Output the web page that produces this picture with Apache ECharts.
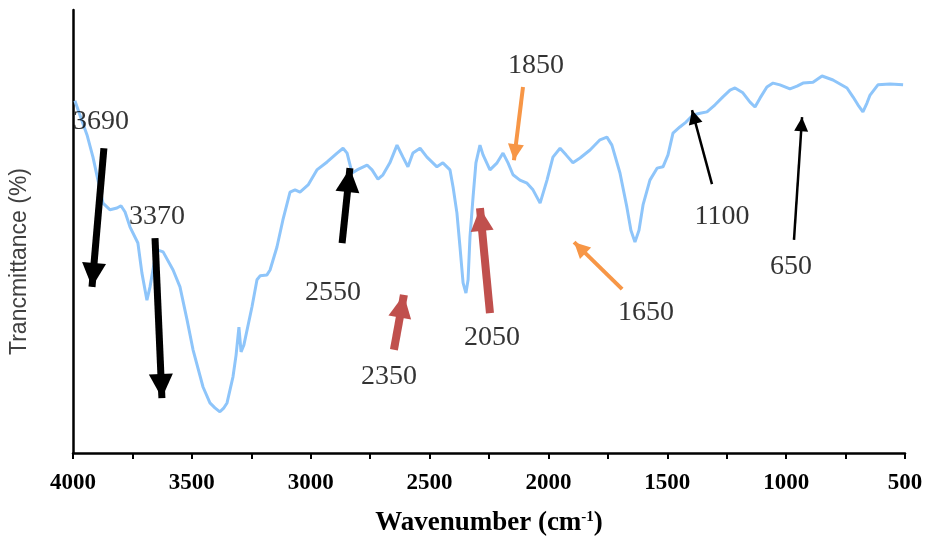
<!DOCTYPE html>
<html>
<head>
<meta charset="utf-8">
<title>FTIR</title>
<script src="https://cdn.jsdelivr.net/npm/echarts@6/dist/echarts.min.js"></script>
<style>
html, body { margin: 0; padding: 0; background: #fff; }
#main { width: 925px; height: 536px; }
</style>
</head>
<body>
<div id="main"></div>
<script>
// spectrum
var wavenumber = [3992, 3971, 3941, 3916, 3895, 3874, 3844, 3815, 3798, 3781, 3760, 3727, 3710, 3689, 3676, 3655, 3642, 3621, 3579, 3550,
  3520, 3495, 3453, 3424, 3403, 3382, 3365, 3352, 3327, 3314, 3302, 3293, 3281, 3247, 3226, 3213, 3184, 3171, 3142, 3117,
  3087, 3066, 3045, 3011, 2974, 2931, 2889, 2864, 2847, 2826, 2805, 2763, 2742, 2717, 2696, 2667, 2637, 2612, 2591, 2570,
  2540, 2511, 2469, 2444, 2414, 2401, 2385, 2372, 2359, 2347, 2338, 2330, 2317, 2305, 2288, 2275, 2246, 2216, 2191, 2170,
  2149, 2120, 2090, 2065, 2035, 2006, 1981, 1951, 1926, 1897, 1867, 1825, 1783, 1754, 1733, 1699, 1670, 1653, 1636, 1619,
  1602, 1573, 1543, 1518, 1497, 1476, 1447, 1421, 1392, 1362, 1333, 1299, 1266, 1236, 1215, 1182, 1152, 1131, 1110, 1081,
  1055, 1026, 984, 954, 929, 887, 849, 803, 744, 719, 698, 677, 660, 647, 614, 563, 508];
var transmittance = [79.5, 76.3, 71.8, 66.8, 61.6, 56.4, 54.9, 55.3, 55.8, 54.4, 51.0, 47.4, 40.6, 34.5, 37.5, 44.0, 45.8, 45.4, 41.3, 37.5,
  30.0, 23.3, 14.9, 11.3, 10.2, 9.3, 10.2, 11.3, 17.2, 22.1, 28.4, 22.8, 24.4, 33.0, 39.1, 40.0, 40.2, 41.3, 46.5, 52.6,
  58.9, 59.4, 58.9, 60.5, 63.9, 65.7, 67.7, 68.8, 67.7, 63.2, 63.9, 65.0, 63.9, 61.8, 62.8, 65.5, 69.5, 66.8, 64.6, 67.7,
  68.8, 66.8, 64.6, 65.5, 63.9, 60.0, 54.2, 46.5, 38.4, 36.1, 39.1, 48.8, 57.8, 65.5, 69.5, 67.3, 63.9, 65.5, 67.7, 65.5,
  62.8, 61.6, 60.9, 59.4, 56.4, 61.6, 66.8, 68.8, 67.3, 65.5, 66.6, 68.4, 70.7, 71.3, 69.5, 63.2, 55.5, 50.3, 47.6, 50.3,
  56.0, 61.6, 64.3, 64.6, 67.3, 72.2, 73.6, 74.7, 76.3, 76.7, 77.0, 78.6, 80.4, 81.9, 82.4, 81.3, 79.2, 78.1, 80.1, 82.6,
  83.5, 83.1, 82.2, 82.8, 83.5, 83.7, 85.1, 84.2, 82.4, 80.4, 78.6, 77.0, 79.0, 80.8, 83.1, 83.3, 83.1];

// peak annotations
var peakNames  = ['3690', '3370', '2550', '2350', '2050', '1850', '1650', '1100', '650'];
var peakTextX  = [3882, 3647, 2906, 2671, 2237, 2052, 1590, 1270, 980];
var peakTextY  = [74.7, 53.3, 36.1, 17.2, 26.0, 87.4, 31.6, 53.3, 42.0];
var arrowTailX = [3870, 3655, 2868, 2650, 2246, 2107, 1690, 1312, 967];
var arrowTailY = [68.8, 48.5, 47.4, 23.3, 31.6, 82.6, 37.0, 60.7, 48.1];
var arrowTipX  = [3920, 3626, 2835, 2608, 2288, 2145, 1892, 1396, 933];
var arrowTipY  = [37.5, 12.4, 64.3, 35.7, 55.3, 66.1, 47.6, 77.4, 75.8];
var arrowKind  = ['bold', 'bold', 'bold', 'red', 'red', 'orange', 'orange', 'thin', 'thin'];

var arrowStyle = {
  bold:   { color: '#000000', width: 7, head: [24, 24] },
  red:    { color: '#C0504D', width: 8, head: [23, 23] },
  orange: { color: '#F79646', width: 4, head: [16, 16] },
  thin:   { color: '#000000', width: 2.5, head: [14, 14] }
};

var arrows = [];
for (var i = 0; i < peakNames.length; i++) {
  var s = arrowStyle[arrowKind[i]];
  arrows.push([
    { coord: [arrowTailX[i], arrowTailY[i]], symbol: 'none',
      lineStyle: { color: s.color, width: s.width, type: 'solid' } },
    { coord: [arrowTipX[i], arrowTipY[i]], symbol: 'triangle', symbolSize: s.head,
      symbolOffset: [0, s.head[1] / 2] }
  ]);
}

var labelData = [];
for (var j = 0; j < peakNames.length; j++) {
  labelData.push([peakTextX[j], peakTextY[j], peakNames[j]]);
}

var lineData = [];
for (var k = 0; k < wavenumber.length; k++) {
  lineData.push([wavenumber[k], transmittance[k]]);
}

var myChart = echarts.init(document.getElementById('main'));
myChart.setOption({
  animation: false,
  grid: { left: 73, right: 20, top: 10, bottom: 83, containLabel: false, outerBoundsMode: 'none' },
  xAxis: {
    type: 'value',
    inverse: true,
    min: 500,
    max: 4000,
    interval: 250,
    name: 'Wavenumber (cm{sup|-1})',
    nameLocation: 'middle',
    nameGap: 57,
    nameTextStyle: {
      fontFamily: 'Liberation Serif', fontWeight: 'bold', fontSize: 27, color: '#000',
      rich: { sup: { fontFamily: 'Liberation Serif', fontWeight: 'bold', fontSize: 15, verticalAlign: 'top', padding: [0, 0, 11, 0] } }
    },
    axisLine: { onZero: false, lineStyle: { color: '#000', width: 2.5 } },
    axisTick: { show: true, inside: false, length: 6, lineStyle: { color: '#000', width: 2 } },
    axisLabel: {
      margin: 19,
      fontFamily: 'Liberation Serif', fontWeight: 'bold', fontSize: 23, color: '#000',
      formatter: function (v) { return v % 500 === 0 ? String(v) : ''; }
    },
    splitLine: { show: false }
  },
  yAxis: {
    type: 'value',
    min: 0,
    max: 100,
    name: 'Trancmittance (%)',
    nameLocation: 'middle',
    nameGap: 42,
    nameTextStyle: { fontFamily: 'Liberation Sans', fontSize: 23, color: '#404040', padding: [0, 60, 0, 0] },
    axisLine: { show: true, lineStyle: { color: '#000', width: 2.5 } },
    axisTick: { show: false },
    axisLabel: { show: false },
    splitLine: { show: false }
  },
  series: [
    {
      type: 'line',
      data: lineData,
      showSymbol: false,
      symbol: 'none',
      lineStyle: { color: '#8EC5FA', width: 3 },
      silent: true,
      z: 2,
      markLine: {
        silent: true,
        symbol: ['none', 'triangle'],
        label: { show: false },
        emphasis: { disabled: true },
        data: arrows
      }
    },
    {
      type: 'scatter',
      data: labelData,
      symbolSize: 0,
      silent: true,
      z: 5,
      label: {
        show: true,
        position: 'inside',
        fontFamily: 'Liberation Serif',
        fontSize: 28,
        color: '#000000',
        textBorderWidth: 0,
        formatter: function (p) { return p.value[2]; }
      }
    }
  ]
});
</script>
</body>
</html>
